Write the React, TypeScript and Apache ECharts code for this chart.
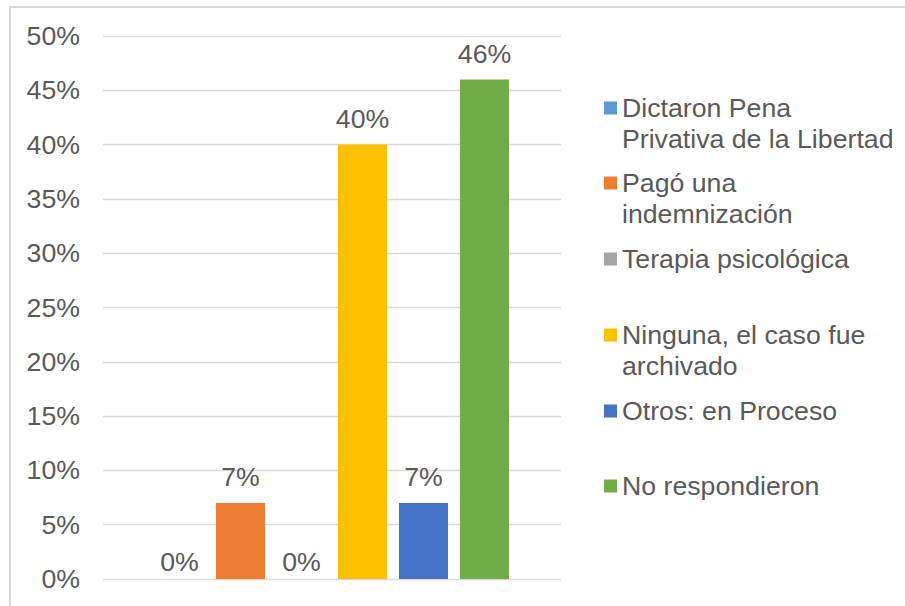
import React, { useEffect, useRef } from "react";
import * as echarts from "echarts";

const categories = [""];
const seriesNames = [
  "Dictaron Pena Privativa de la Libertad",
  "Pagó una indemnización",
  "Terapia psicológica",
  "Ninguna, el caso fue archivado",
  "Otros: en Proceso",
  "No respondieron",
];
const legendLabels = [
  "Dictaron Pena\nPrivativa de la Libertad",
  "Pagó una\nindemnización",
  "Terapia psicológica",
  "Ninguna, el caso fue\narchivado",
  "Otros: en Proceso",
  "No respondieron",
];
const values = [0, 7, 0, 40, 7, 46];
const colors = ["#5B9BD5", "#ED7D31", "#A5A5A5", "#FFC000", "#4472C4", "#70AD47"];
const yMin = 0;
const yMax = 50;
const yInterval = 5;

const FONT = "'Liberation Sans', Arial, sans-serif";
const TEXT = "#595959";
const FS = 26.7;
const LH = 31;

export default function App() {
  const ref = useRef<HTMLDivElement>(null);
  useEffect(() => {
    if (!ref.current) return;
    const chart = echarts.init(ref.current, null, { renderer: "svg" });
    const iconCenters = [108, 183, 259, 335, 411, 486];
    const legends = seriesNames.map((name, i) => {
      const twoLine = legendLabels[i].includes("\n");
      const h = twoLine ? LH * 3 : LH;
      return {
        show: true,
        left: 604,
        top: iconCenters[i] - h / 2,
        padding: 0,
        orient: "vertical",
        selectedMode: false,
        icon: "rect",
        itemWidth: 13,
        itemHeight: 13,
        data: [name],
        formatter: () => (twoLine ? "\n" + legendLabels[i] : legendLabels[i]),
        textStyle: {
          fontFamily: FONT,
          fontSize: FS,
          color: TEXT,
          lineHeight: LH,
        },
      };
    });
    chart.setOption({
      animation: false,
      backgroundColor: "#ffffff",
      textStyle: { fontFamily: FONT },
      graphic: [
        {
          type: "rect",
          shape: { x: 10, y: 7, width: 1000, height: 1000 },
          style: { fill: "none", stroke: "#d9d9d9", lineWidth: 2 },
          silent: true,
        },
      ],
      grid: { left: 103, right: 344, top: 36, bottom: 27, containLabel: false },
      legend: legends,
      xAxis: {
        type: "category",
        data: categories,
        axisLine: { show: false },
        axisTick: { show: false },
        axisLabel: { show: false },
      },
      yAxis: {
        type: "value",
        min: yMin,
        max: yMax,
        interval: yInterval,
        axisLine: { show: false },
        axisTick: { show: false },
        axisLabel: {
          formatter: "{value}%",
          fontFamily: FONT,
          fontSize: FS,
          color: TEXT,
          margin: 23,
        },
        splitLine: { lineStyle: { color: "#d9d9d9", width: 1.3 } },
      },
      series: seriesNames.map((name, i) => ({
        name,
        type: "bar",
        data: [values[i]],
        barWidth: 49,
        barGap: "24.5%",
        itemStyle: { color: colors[i] },
        label: {
          show: true,
          position: "top",
          distance: values[i] === 0 ? 4 : 12,
          formatter: "{c}%",
          fontFamily: FONT,
          fontSize: FS,
          color: TEXT,
        },
      })),
    });
    return () => chart.dispose();
  }, []);
  return (
    <div
      ref={ref}
      style={{ position: "fixed", left: 0, top: 0, width: 905, height: 606 }}
    />
  );
}
